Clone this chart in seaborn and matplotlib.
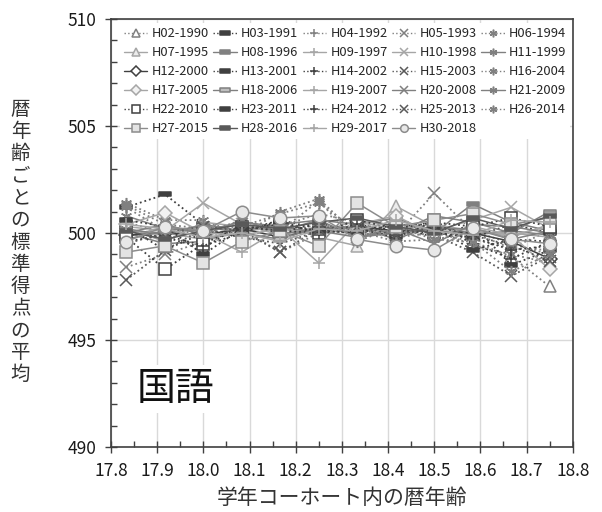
import matplotlib
matplotlib.use("Agg")
import matplotlib.pyplot as plt
from matplotlib.lines import Line2D
from matplotlib.path import Path
import seaborn as sns
import pandas as pd

# ---------------- data ----------------
ages = [17.833, 17.917, 18.0, 18.083, 18.167, 18.25, 18.333, 18.417, 18.5, 18.583, 18.667, 18.75]
series_names = ["H02-1990", "H03-1991", "H04-1992", "H05-1993", "H06-1994",
                "H07-1995", "H08-1996", "H09-1997", "H10-1998", "H11-1999",
                "H12-2000", "H13-2001", "H14-2002", "H15-2003", "H16-2004",
                "H17-2005", "H18-2006", "H19-2007", "H20-2008", "H21-2009",
                "H22-2010", "H23-2011", "H24-2012", "H25-2013", "H26-2014",
                "H27-2015", "H28-2016", "H29-2017", "H30-2018"]
H02 = [499.9, 500.2, 499.8, 500.3, 500.0, 500.4, 500.1, 499.8, 500.0, 499.6, 498.9, 497.5]
H03 = [501.2, 501.8, 500.4, 500.1, 500.6, 500.2, 500.0, 500.3, 499.8, 500.4, 498.5, 499.2]
H04 = [500.5, 500.0, 500.2, 499.8, 500.3, 500.9, 500.5, 499.9, 500.2, 499.7, 499.3, 500.1]
H05 = [498.4, 499.0, 499.6, 500.2, 499.1, 500.0, 500.4, 499.9, 501.85, 500.1, 499.5, 499.0]
H06 = [501.4, 500.6, 500.6, 499.9, 501.0, 501.6, 499.9, 500.1, 500.2, 499.4, 499.0, 498.6]
H07 = [500.1, 500.0, 499.7, 500.0, 500.4, 499.8, 499.4, 501.25, 500.3, 500.0, 500.0, 499.8]
H08 = [500.0, 499.5, 499.6, 500.3, 500.1, 500.6, 500.4, 500.7, 500.0, 501.35, 500.5, 500.1]
H09 = [499.8, 500.3, 500.0, 499.1, 500.2, 500.0, 500.6, 500.3, 500.0, 500.2, 499.8, 500.4]
H10 = [500.3, 500.1, 501.4, 500.4, 499.9, 500.3, 500.0, 500.4, 500.1, 500.6, 501.2, 500.2]
H11 = [500.8, 500.2, 500.1, 500.5, 500.3, 500.0, 500.3, 499.7, 500.4, 499.9, 500.1, 499.9]
H12 = [499.9, 500.0, 499.9, 500.2, 499.8, 500.2, 500.3, 500.1, 500.1, 500.0, 499.6, 498.8]
H13 = [500.3, 499.2, 500.0, 500.1, 500.5, 500.0, 500.2, 499.8, 500.5, 499.8, 500.4, 500.0]
H14 = [500.0, 499.8, 499.3, 500.4, 500.0, 500.5, 499.9, 500.0, 500.6, 499.5, 498.8, 499.6]
H15 = [497.8, 499.2, 500.2, 499.8, 499.5, 500.1, 500.0, 500.5, 499.9, 499.1, 498.0, 498.9]
H16 = [501.3, 500.4, 500.2, 500.3, 500.9, 501.4, 500.1, 499.6, 499.7, 500.0, 499.3, 499.2]
H17 = [500.4, 500.95, 500.0, 499.9, 500.2, 499.9, 500.4, 500.8, 499.9, 500.3, 499.9, 498.3]
H18 = [499.7, 500.1, 500.3, 500.0, 499.7, 500.3, 500.2, 500.0, 500.8, 500.5, 500.0, 501.0]
H19 = [500.2, 499.6, 500.5, 500.3, 500.2, 498.6, 500.5, 500.2, 500.4, 500.1, 499.9, 500.3]
H20 = [500.0, 500.4, 499.9, 500.6, 500.0, 500.1, 499.8, 500.2, 499.5, 500.4, 500.3, 500.0]
H21 = [500.2, 499.9, 500.4, 500.1, 500.4, 500.6, 499.8, 500.0, 500.2, 500.2, 499.7, 500.1]
H22 = [499.8, 498.3, 499.5, 500.3, 500.1, 500.0, 500.6, 500.2, 500.5, 500.3, 500.7, 500.3]
H23 = [500.6, 500.3, 499.0, 500.2, 500.4, 500.1, 500.0, 500.4, 500.3, 499.2, 499.7, 499.6]
H24 = [499.6, 499.9, 499.4, 500.0, 500.6, 499.9, 500.4, 500.1, 500.0, 499.8, 499.2, 499.4]
H25 = [499.5, 500.0, 500.3, 500.1, 499.1, 500.2, 500.3, 499.9, 500.3, 499.9, 499.4, 498.7]
H26 = [501.2, 500.1, 500.0, 500.6, 500.1, 501.5, 499.6, 500.3, 499.7, 499.6, 498.2, 499.0]
H27 = [499.1, 499.4, 498.6, 499.6, 500.1, 499.4, 501.4, 500.3, 500.6, 500.9, 500.4, 500.7]
H28 = [500.1, 499.7, 500.1, 500.4, 500.2, 500.5, 500.7, 500.3, 500.0, 500.7, 500.2, 500.8]
H29 = [500.4, 500.2, 499.8, 500.0, 499.6, 500.2, 500.1, 500.6, 500.1, 499.9, 500.6, 500.5]
H30 = [499.6, 500.3, 500.1, 501.0, 500.7, 500.8, 499.7, 499.4, 499.2, 500.25, 499.7, 499.5]
all_values = [H02, H03, H04, H05, H06, H07, H08, H09, H10, H11, H12, H13, H14, H15,
              H16, H17, H18, H19, H20, H21, H22, H23, H24, H25, H26, H27, H28, H29, H30]
x_ticks = [17.8, 17.9, 18.0, 18.1, 18.2, 18.3, 18.4, 18.5, 18.6, 18.7, 18.8]
y_ticks = [490, 495, 500, 505, 510]

# ---------------- styles ----------------
DASH = Path([(-1, -0.32), (1, -0.32), (1, 0.32), (-1, 0.32), (-1, -0.32)],
            [Path.MOVETO, Path.LINETO, Path.LINETO, Path.LINETO, Path.CLOSEPOLY])
AST = (6, 2, 0)
dark, mid, light, mdark = "#404040", "#808080", "#a6a6a6", "#595959"
styles = [
    ("^", ":", mid, "white"), (DASH, ":", dark, dark), ("+", ":", mid, None), ("x", ":", mid, None), (AST, ":", mid, None),
    ("^", "-", light, "#ececec"), (DASH, "-", mid, mid), ("+", "-", light, None), ("x", "-", light, None), (AST, "-", mid, None),
    ("D", "-", dark, "white"), (DASH, ":", dark, dark), ("+", ":", dark, None), ("x", ":", mdark, None), (AST, ":", mid, None),
    ("D", "-", light, "#f2f2f2"), (DASH, "-", mid, "#bfbfbf"), ("+", "-", light, None), ("x", "-", mid, None), (AST, "-", mid, None),
    ("s", ":", dark, "white"), (DASH, ":", dark, dark), ("+", ":", dark, None), ("x", ":", mdark, None), (AST, ":", mid, None),
    ("s", "-", "#8c8c8c", "#e3e3e3"), (DASH, "-", mdark, mdark), ("+", "-", light, None), ("o", "-", "#8c8c8c", "#e8e8e8"),
]

sns.set_theme(style="white")
plt.rcParams["font.family"] = ["Noto Sans CJK JP", "DejaVu Sans"]

fig = plt.figure(figsize=(6.02, 5.12), dpi=100)
ax = fig.add_axes([0.1844, 0.127, 0.767, 0.836])

handles = []
for name, vals, (mk, ls, col, fc) in zip(series_names, all_values, styles):
    df = pd.DataFrame({"age": ages, "score": vals})
    ms = {"o": 9.0, "s": 8.0, "D": 7.0, "^": 8.0}.get(mk if isinstance(mk, str) else "", 8.0)
    kw = dict(color=col, marker=mk, linestyle=ls, linewidth=1.1 if ls == "-" else 1.3,
              markersize=ms, markeredgecolor=col, markeredgewidth=1.1)
    if fc is not None:
        kw["markerfacecolor"] = fc
    sns.lineplot(data=df, x="age", y="score", ax=ax, legend=False, **kw)
    hkw = dict(kw)
    hkw["markersize"] = 5.5 if mk is not DASH else 7
    hkw["linewidth"] = 1.0
    handles.append(Line2D([], [], **hkw))

# reorder so that the column-major legend reads row by row
ncol, nrow = 5, 6
order = [r * ncol + c for c in range(ncol) for r in range(nrow) if r * ncol + c < len(series_names)]
leg_handles = [handles[i] for i in order]
leg_labels = [series_names[i] for i in order]

ax.set_xlim(17.8, 18.8)
ax.set_ylim(490, 510)
ax.set_xticks(x_ticks)
ax.set_xticklabels([f"{t:.1f}" for t in x_ticks])
ax.set_yticks(y_ticks)
ax.set_xticks([17.85 + 0.1 * i for i in range(10)], minor=True)
ax.set_yticks([v for v in range(490, 511) if v % 5 != 0], minor=True)
ax.grid(True, which="major", color="#d9d9d9", linewidth=1)
ax.set_axisbelow(True)
for s in ax.spines.values():
    s.set_color("#404040")
    s.set_linewidth(1.2)
ax.tick_params(which="major", direction="inout", length=9, width=1, color="#404040",
               labelsize=12.5, labelcolor="#1a1a1a", pad=6)
ax.tick_params(which="minor", direction="in", length=4, width=1, color="#404040")
ax.tick_params(axis="x", which="both", bottom=True)
ax.tick_params(axis="y", which="both", left=True)
ax.set_xlabel("")
ax.set_ylabel("")

leg = ax.legend(leg_handles, leg_labels, ncol=ncol, loc="upper left",
                bbox_to_anchor=(0.02, 0.0, 0.975, 0.99), mode="expand",
                fontsize=9.3, frameon=True, facecolor="white", edgecolor="none",
                fancybox=False, handlelength=1.8, handletextpad=0.35,
                labelspacing=0.47, borderaxespad=0.0, borderpad=0.3)
leg.get_frame().set_alpha(1)
leg.set_zorder(5)

ax.text(0.055, 0.135, "国語", transform=ax.transAxes, fontsize=28, va="center",
        ha="left", color="#111111", zorder=6,
        bbox=dict(facecolor="white", edgecolor="none", pad=3))

fig.text(0.5681, 0.028, "学年コーホート内の暦年齢", ha="center", va="center",
         fontsize=15, color="#333333")
fig.text(0.034, 0.527, "\n".join("暦年齢ごとの標準得点の平均"), ha="center", va="center",
         fontsize=14, color="#333333", linespacing=1.07)

fig.savefig("out.png", dpi=100)
